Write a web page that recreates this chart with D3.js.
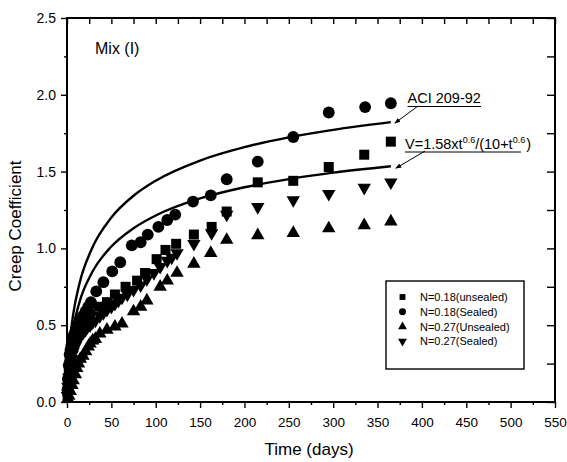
<!DOCTYPE html>
<html>
<head>
<meta charset="utf-8">
<script src="https://cdn.jsdelivr.net/npm/d3@7"></script>
<style>
  body { margin: 0; background: #fff; }
  svg { display: block; font-family: "Liberation Sans", Arial, sans-serif; }
</style>
</head>
<body>
<div id="chart"></div>
<script>
// --- data ----------------------------------------------------------------
// N=0.18 (unsealed) — squares
const sqT = [0.5, 1, 2, 3, 4, 5, 6, 7, 8, 10, 12, 14, 16, 18, 21, 26, 36, 45, 54, 66, 79, 88, 101, 111, 123, 143, 163, 180, 215, 255, 295, 335, 365];
const sqV = [0.06, 0.12, 0.19, 0.26, 0.29, 0.32, 0.35, 0.37, 0.39, 0.42, 0.45, 0.47, 0.49, 0.51, 0.54, 0.57, 0.62, 0.65, 0.70, 0.75, 0.79, 0.84, 0.93, 0.99, 1.03, 1.09, 1.14, 1.24, 1.43, 1.44, 1.53, 1.61, 1.695];
// N=0.18 (Sealed) — circles
const ciT = [0.5, 1, 2, 3, 4, 5, 6, 7, 8, 10, 12, 14, 16, 18, 21, 24, 27, 33, 41, 51, 60, 73, 83, 91, 103, 113, 122, 142, 162, 180, 215, 255, 295, 336, 365];
const ciV = [0.08, 0.15, 0.24, 0.31, 0.34, 0.37, 0.40, 0.42, 0.44, 0.47, 0.50, 0.52, 0.54, 0.56, 0.59, 0.62, 0.65, 0.72, 0.78, 0.85, 0.91, 1.02, 1.04, 1.09, 1.14, 1.185, 1.22, 1.305, 1.345, 1.45, 1.565, 1.725, 1.885, 1.92, 1.945];
// N=0.27 (Unsealed) — up triangles
const upT = [1, 2, 3.7, 5.6, 7, 9.4, 11, 13, 15, 18, 21, 24, 26, 29, 32, 37, 45, 54, 62, 75, 83, 90, 105, 113, 124, 143, 162, 180, 215, 255, 295, 335, 365];
const upV = [0.02, 0.04, 0.07, 0.11, 0.14, 0.18, 0.22, 0.25, 0.28, 0.30, 0.33, 0.36, 0.38, 0.40, 0.41, 0.445, 0.47, 0.49, 0.51, 0.59, 0.62, 0.66, 0.75, 0.79, 0.84, 0.90, 0.97, 1.055, 1.085, 1.10, 1.13, 1.15, 1.175];
// N=0.27 (Sealed) — down triangles
const dnT = [0.5, 1, 2, 3, 4, 5, 6, 7, 8, 10, 12, 14, 16, 18, 21, 23, 26, 29, 32, 37, 41, 45, 50, 54, 58, 62, 68, 75, 83, 90, 98, 105, 113, 118, 124, 143, 163, 180, 215, 255, 295, 335, 365];
const dnV = [0.04, 0.10, 0.16, 0.22, 0.25, 0.28, 0.31, 0.33, 0.35, 0.37, 0.40, 0.42, 0.44, 0.45, 0.47, 0.49, 0.50, 0.52, 0.53, 0.56, 0.58, 0.60, 0.62, 0.64, 0.66, 0.68, 0.70, 0.73, 0.76, 0.80, 0.84, 0.88, 0.92, 0.94, 0.97, 1.03, 1.10, 1.22, 1.27, 1.315, 1.355, 1.395, 1.43];

// the two drawn curves
const curveT = [1, 3, 7, 14, 28, 50, 75, 100, 150, 200, 250, 300, 365];
const aciV   = [0.214, 0.381, 0.571, 0.770, 0.998, 1.201, 1.343, 1.441, 1.572, 1.659, 1.723, 1.772, 1.822];
const fitV   = [0.180, 0.321, 0.481, 0.649, 0.841, 1.012, 1.131, 1.214, 1.325, 1.398, 1.451, 1.493, 1.535];

const xTicks = d3.range(0, 551, 50);
const yTicks = [0, 0.5, 1.0, 1.5, 2.0, 2.5];
const legendLabels = ["N=0.18(unsealed)", "N=0.18(Sealed)", "N=0.27(Unsealed)", "N=0.27(Sealed)"];

// --- layout ---------------------------------------------------------------
const W = 567, H = 462;
const plot = { left: 67, right: 555, top: 18, bottom: 402 };

const x = d3.scaleLinear().domain([0, 550]).range([plot.left, plot.right]);
const y = d3.scaleLinear().domain([0, 2.5]).range([plot.bottom, plot.top]);

const svg = d3.select("#chart").append("svg")
    .attr("width", W).attr("height", H)
    .attr("viewBox", `0 0 ${W} ${H}`);

svg.append("rect").attr("width", W).attr("height", H).attr("fill", "#fff");

// axes: bottom/left outward with labels, top/right inward without
function styleAxis(g) {
    g.select(".domain").remove();
    g.selectAll(".tick line").attr("stroke", "#000").attr("stroke-width", 1.4);
    g.selectAll(".tick text").attr("fill", "#000");
}

const minorX = d3.range(25, 551, 50);
const minorY = [0.25, 0.75, 1.25, 1.75, 2.25];

svg.append("g").attr("transform", `translate(0,${plot.bottom})`)
    .call(d3.axisBottom(x).tickValues(xTicks).tickSize(6).tickPadding(9).tickFormat(d3.format("d")))
    .call(styleAxis)
    .call(g => g.selectAll("text").style("font-size", "13.5px"));
svg.append("g").attr("transform", `translate(0,${plot.bottom})`)
    .call(d3.axisBottom(x).tickValues(minorX).tickSize(3).tickFormat(""))
    .call(styleAxis);

svg.append("g").attr("transform", `translate(${plot.left},0)`)
    .call(d3.axisLeft(y).tickValues(yTicks).tickSize(6).tickPadding(5).tickFormat(d3.format(".1f")))
    .call(styleAxis)
    .call(g => g.selectAll("text").style("font-size", "14px"));
svg.append("g").attr("transform", `translate(${plot.left},0)`)
    .call(d3.axisLeft(y).tickValues(minorY).tickSize(3).tickFormat(""))
    .call(styleAxis);

// top: inward ticks every 25
svg.append("g").attr("transform", `translate(0,${plot.top})`)
    .call(d3.axisBottom(x).tickValues(d3.range(0, 551, 25)).tickSize(6).tickFormat(""))
    .call(styleAxis);
// right: inward ticks every 0.25
svg.append("g").attr("transform", `translate(${plot.right},0)`)
    .call(d3.axisLeft(y).tickValues(d3.range(0, 2.51, 0.25)).tickSize(8).tickFormat(""))
    .call(styleAxis);

svg.append("rect")
    .attr("x", plot.left).attr("y", plot.top)
    .attr("width", plot.right - plot.left).attr("height", plot.bottom - plot.top)
    .attr("fill", "none").attr("stroke", "#000").attr("stroke-width", 2);

// axis titles
svg.append("text")
    .attr("x", (plot.left + plot.right) / 2 - 2).attr("y", 455)
    .attr("text-anchor", "middle").style("font-size", "17px")
    .text("Time (days)");
svg.append("text")
    .attr("transform", "translate(21,226) rotate(-90)")
    .attr("text-anchor", "middle").style("font-size", "17px")
    .text("Creep Coefficient");

svg.append("text")
    .attr("x", 95).attr("y", 53.5)
    .style("font-size", "16px")
    .text("Mix (I)");

// curves
const line = d3.line()
    .x((d, i) => x(curveT[i]))
    .y(d => y(d))
    .curve(d3.curveMonotoneX);

[aciV, fitV].forEach(vals => {
    svg.append("path")
        .attr("d", line(vals))
        .attr("fill", "none").attr("stroke", "#000").attr("stroke-width", 2.4);
});

// markers
const series = [
    { t: sqT, v: sqV, type: d3.symbolSquare,   size: 100, rot: 0 },
    { t: ciT, v: ciV, type: d3.symbolCircle,   size: 110, rot: 0 },
    { t: upT, v: upV, type: d3.symbolTriangle, size: 78,  rot: 0 },
    { t: dnT, v: dnV, type: d3.symbolTriangle, size: 78,  rot: 180 }
];

series.forEach(s => {
    const sym = d3.symbol().type(s.type).size(s.size);
    svg.append("g").selectAll("path")
        .data(s.t.map((t, i) => [t, s.v[i]]))
        .join("path")
        .attr("transform", d => `translate(${x(d[0])},${y(d[1])}) rotate(${s.rot})`)
        .attr("d", sym)
        .attr("fill", "#000");
});

// annotations with arrows
svg.append("defs").append("marker")
    .attr("id", "arr").attr("viewBox", "0 0 10 10")
    .attr("refX", 9).attr("refY", 5)
    .attr("markerWidth", 6).attr("markerHeight", 6)
    .attr("orient", "auto")
    .append("path").attr("d", "M0,1 L10,5 L0,9 Z").attr("fill", "#000");

const ann = svg.append("g").style("font-size", "14.5px");
ann.append("text").attr("x", 407.5).attr("y", 103).text("ACI 209-92");
ann.append("line").attr("x1", 407.5).attr("x2", 481).attr("y1", 106.5).attr("y2", 106.5)
    .attr("stroke", "#000").attr("stroke-width", 1.2);
ann.append("line").attr("x1", 418).attr("y1", 106).attr("x2", x(365) + 4).attr("y2", y(aciV[aciV.length - 1]) + 1)
    .attr("stroke", "#000").attr("stroke-width", 1).attr("marker-end", "url(#arr)");

const f = ann.append("text").attr("x", 405).attr("y", 148.5);
f.append("tspan").text("V=1.58xt");
f.append("tspan").attr("dy", -6).style("font-size", "9px").text("0.6");
f.append("tspan").attr("dy", 6).text("/(10+t");
f.append("tspan").attr("dy", -6).style("font-size", "9px").text("0.6");
f.append("tspan").attr("dy", 6).attr("dx", 1).text(")");
ann.append("line").attr("x1", 405).attr("x2", 521).attr("y1", 152).attr("y2", 152)
    .attr("stroke", "#000").attr("stroke-width", 1.2);
ann.append("line").attr("x1", 425).attr("y1", 151).attr("x2", x(365) + 5).attr("y2", y(fitV[fitV.length - 1]) + 2)
    .attr("stroke", "#000").attr("stroke-width", 1).attr("marker-end", "url(#arr)");

// legend
const lg = svg.append("g");
lg.append("rect")
    .attr("x", 386).attr("y", 281).attr("width", 138).attr("height", 88)
    .attr("fill", "#fff").attr("stroke", "#000").attr("stroke-width", 1.4);
const legSym = [
    { type: d3.symbolSquare, size: 34, rot: 0 },
    { type: d3.symbolCircle, size: 38, rot: 0 },
    { type: d3.symbolTriangle, size: 34, rot: 0 },
    { type: d3.symbolTriangle, size: 34, rot: 180 }
];
legendLabels.forEach((lab, i) => {
    const cy = 297 + i * 14.8;
    lg.append("path")
        .attr("transform", `translate(402.5,${cy}) rotate(${legSym[i].rot})`)
        .attr("d", d3.symbol().type(legSym[i].type).size(legSym[i].size))
        .attr("fill", "#000");
    lg.append("text").attr("x", 420).attr("y", cy + 4)
        .style("font-size", "11px").text(lab);
});
</script>
</body>
</html>
